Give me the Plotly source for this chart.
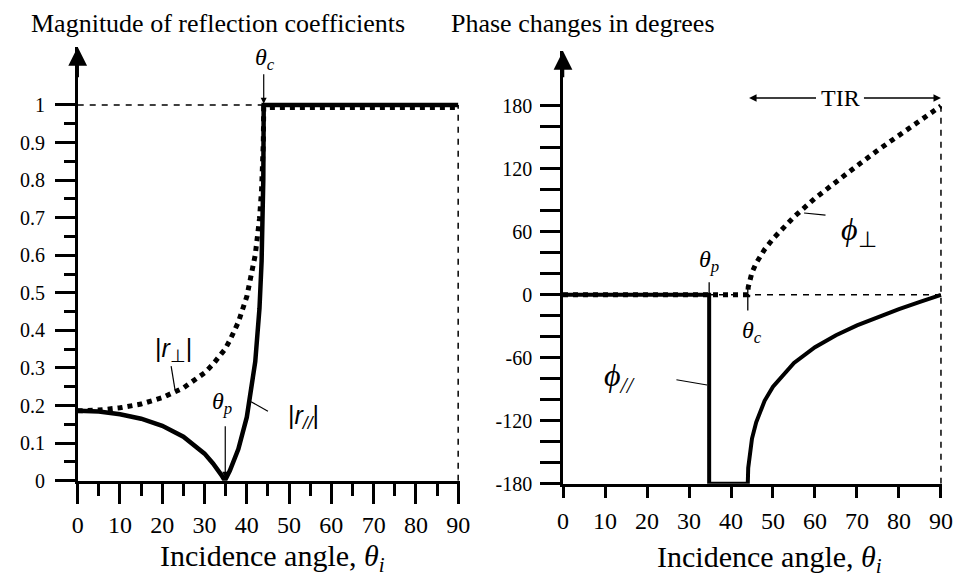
import plotly.graph_objects as go

# ---------------- data ----------------
theta_c = 44.0   # critical angle
theta_p = 34.8   # Brewster (polarization) angle

theta_mag = [0, 5, 10, 15, 20, 25, 30, 32, 34, 34.8, 36, 38, 40, 42, 43, 43.5, 43.9, 44,
             50, 60, 70, 80, 90]
r_perp = [0.186, 0.188, 0.194, 0.204, 0.221, 0.247, 0.287, 0.310, 0.338, 0.349, 0.374, 0.422,
          0.490, 0.601, 0.697, 0.776, 0.899, 0.993, 0.993, 0.993, 0.993, 0.993, 0.993]
r_par = [0.186, 0.184, 0.177, 0.165, 0.146, 0.117, 0.072, 0.046, 0.015, 0.0, 0.027, 0.084,
         0.169, 0.317, 0.459, 0.584, 0.801, 1.0, 1.0, 1.0, 1.0, 1.0, 1.0]

theta_phi_par = [0, 34.8, 34.8, 44.0, 44.1, 44.5, 45, 46, 48, 50, 55, 60, 65, 70, 75, 80, 85, 90]
phi_par = [0, 0, -180, -180, -165, -149, -137, -121.5, -101, -87.6, -65, -50, -38.6, -29.2,
           -21, -13.7, -6.7, 0]

theta_phi_perp = [0, 44.0, 44.1, 44.5, 45, 46, 48, 50, 55, 60, 65, 70, 75, 80, 85, 90]
phi_perp = [0, 0, 7.2, 15.2, 21.3, 30.2, 43.2, 53.4, 74.3, 92, 108, 123, 138, 152, 166, 180]

x_ticks = [0, 10, 20, 30, 40, 50, 60, 70, 80, 90]
x_minor = [5, 15, 25, 35, 45, 55, 65, 75, 85]
mag_ticks = [0, 0.1, 0.2, 0.3, 0.4, 0.5, 0.6, 0.7, 0.8, 0.9, 1]
mag_ticktext = ["0", "0.1", "0.2", "0.3", "0.4", "0.5", "0.6", "0.7", "0.8", "0.9", "1"]
mag_minor = [0.05, 0.15, 0.25, 0.35, 0.45, 0.55, 0.65, 0.75, 0.85, 0.95]
phase_ticks = [-180, -120, -60, 0, 60, 120, 180]
phase_ticktext = ["-180", "-120", "-60", "0", "60", "120", "180"]
phase_minor = [-160, -140, -100, -80, -40, -20, 20, 40, 80, 100, 140, 160]

mag_unity = 1.0
phase_zero = 0.0
phase_top = 180.0
phase_bottom = -180.0
tir_level = 187.5

# ---------------- figure ----------------
W, H = 966, 579
SERIF = "Liberation Serif"
SANS = "Liberation Sans"

def px(x):
    return x / W

def py(y):
    return (H - y) / H

fig = go.Figure()

# left panel: magnitudes
fig.add_trace(go.Scatter(x=theta_mag, y=r_par, mode="lines", xaxis="x", yaxis="y",
                         line=dict(color="black", width=4.5), showlegend=False, hoverinfo="skip"))
fig.add_trace(go.Scatter(x=theta_mag, y=r_perp, mode="lines", xaxis="x", yaxis="y",
                         line=dict(color="black", width=5, dash="dot"), showlegend=False,
                         hoverinfo="skip"))

# right panel: phases
fig.add_trace(go.Scatter(x=theta_phi_perp, y=phi_perp, mode="lines", xaxis="x2", yaxis="y2",
                         line=dict(color="black", width=5, dash="dot"), showlegend=False,
                         hoverinfo="skip"))
fig.add_trace(go.Scatter(x=theta_phi_par, y=phi_par, mode="lines", xaxis="x2", yaxis="y2",
                         line=dict(color="black", width=4), showlegend=False, hoverinfo="skip"))

axis_common = dict(showline=True, linecolor="black", linewidth=2.5, showgrid=False,
                   zeroline=False, ticks="outside", tickcolor="black", tickwidth=2.5)

fig.update_layout(
    width=W, height=H, margin=dict(l=0, r=0, t=0, b=0), autosize=False,
    paper_bgcolor="white", plot_bgcolor="white",
    xaxis=dict(domain=[px(73), px(462)], range=[0, 90.4], anchor="y",
               tickvals=x_ticks, ticklen=21, ticklabelstandoff=0,
               tickfont=dict(family=SERIF, size=24, color="black"),
               minor=dict(tickvals=x_minor, ticklen=13, tickwidth=2.5, tickcolor="black",
                          ticks="outside"),
               **axis_common),
    yaxis=dict(domain=[py(490), py(48)], range=[0, 1.154], anchor="x",
               tickvals=mag_ticks, ticktext=mag_ticktext, ticklen=20, ticklabelstandoff=6,
               tickfont=dict(family=SERIF, size=20, color="black"),
               minor=dict(tickvals=mag_minor, ticklen=11, tickwidth=2.5, tickcolor="black",
                          ticks="outside"),
               **axis_common),
    xaxis2=dict(domain=[px(567), px(953)], range=[0, 90.3], anchor="y2",
                tickvals=x_ticks, ticklen=12, ticklabelstandoff=2,
                tickfont=dict(family=SERIF, size=24, color="black"),
                **axis_common),
    yaxis2=dict(domain=[py(493), py(52)], range=[-180, 232.4], anchor="x2",
                tickvals=phase_ticks, ticktext=phase_ticktext, ticklen=20, ticklabelstandoff=4,
                tickfont=dict(family=SERIF, size=20, color="black"),
                minor=dict(tickvals=phase_minor, ticklen=20, tickwidth=2.5, tickcolor="black",
                           ticks="outside"),
                **axis_common),
)

thin_dash = dict(color="black", width=1.5, dash="6px,6px")
shapes = [
    # left: dashed line at |r| = 1 up to theta_c, dashed vertical at 90
    dict(type="line", xref="x", yref="y", x0=0, x1=theta_c, y0=mag_unity, y1=mag_unity,
         line=thin_dash, layer="below"),
    dict(type="line", xref="x", yref="y", x0=x_ticks[-1], x1=x_ticks[-1], y0=0, y1=mag_unity,
         line=thin_dash, layer="below"),
    # right: dashed zero line and dashed vertical at 90
    dict(type="line", xref="x2", yref="y2", x0=0, x1=x_ticks[-1], y0=phase_zero, y1=phase_zero,
         line=thin_dash, layer="below"),
    dict(type="line", xref="x2", yref="y2", x0=x_ticks[-1], x1=x_ticks[-1], y0=phase_bottom,
         y1=phase_top, line=thin_dash, layer="below"),
    # right: small ticks marking theta_p and theta_c on the zero line
    dict(type="line", xref="x2", yref="y2", x0=theta_p, x1=theta_p, y0=0, y1=12,
         line=dict(color="black", width=1.3)),
    dict(type="line", xref="x2", yref="y2", x0=theta_c, x1=theta_c, y0=7, y1=-15,
         line=dict(color="black", width=1.3)),
    # leader lines
    dict(type="line", xref="x", yref="y", x0=22.1, x1=23.0, y0=0.305, y1=0.243,
         line=dict(color="black", width=1.2)),
    dict(type="line", xref="x", yref="y", x0=41.0, x1=45.0, y0=0.21, y1=0.185,
         line=dict(color="black", width=1.2)),
    dict(type="line", xref="x2", yref="y2", x0=57.4, x1=62.5, y0=78, y1=76,
         line=dict(color="black", width=1.2)),
    dict(type="line", xref="x2", yref="y2", x0=27.0, x1=34.3, y0=-81, y1=-86,
         line=dict(color="black", width=1.2)),
]
fig.update_layout(shapes=shapes)


def arrow(xr, yr, x, y, ax, ay, width=1.3, head=2, size=1.0):
    return dict(x=x, y=y, ax=ax, ay=ay, xref=xr, yref=yr, axref=xr, ayref=yr,
                showarrow=True, text="", arrowhead=head, arrowsize=size,
                arrowwidth=width, arrowcolor="black", standoff=0)


def label(xr, yr, x, y, text, size, family=SERIF):
    return dict(x=x, y=y, xref=xr, yref=yr, text=text, showarrow=False,
                font=dict(family=family, size=size, color="black"),
                xanchor="center", yanchor="middle")


annotations = [
    # axis arrows
    arrow("x", "y", 0, 1.154, 0, 1.07, width=2.5, head=2, size=1.5),
    arrow("x2", "y2", 0, 232.4, 0, 206, width=2.5, head=2, size=1.5),
    # left labels
    label("x", "y", 44.2, 1.123, "<i>θ</i><sub><i>c</i></sub>", 24),
    arrow("x", "y", 44.0, 1.003, 44.0, 1.086, width=1.2, head=2, size=1.0),
    label("x", "y", 34.2, 0.206, "<i>θ</i><sub><i>p</i></sub>", 24),
    arrow("x", "y", 34.9, 0.008, 34.9, 0.149, width=1.2, head=2, size=1.0),
    label("x", "y", 22.6, 0.347, "|<i>r</i><sub>⊥</sub>|", 25, SANS),
    label("x", "y", 53.3, 0.170, "|<i>r</i><sub><i>//</i></sub>|", 25, SANS),
    # right labels
    label("x2", "y2", 34.7, 32.3, "<i>θ</i><sub><i>p</i></sub>", 24),
    label("x2", "y2", 45.0, -35, "<i>θ</i><sub><i>c</i></sub>", 24),
    label("x2", "y2", 70.5, 60.3, "<i>ϕ</i><sub>⊥</sub>", 32),
    label("x2", "y2", 13.5, -79, "<i>ϕ</i><sub><i>//</i></sub>", 32),
    label("x2", "y2", 66.0, tir_level, "TIR", 24),
    arrow("x2", "y2", theta_c + 0.3, tir_level, 60.6, tir_level, width=1.5, head=2, size=1.0),
    arrow("x2", "y2", 90.0, tir_level, 71.3, tir_level, width=1.5, head=2, size=1.0),
    # titles
    dict(x=px(216), y=py(24), xref="paper", yref="paper", showarrow=False,
         text="Magnitude of reflection coefficients",
         font=dict(family=SERIF, size=26, color="black"), xanchor="center", yanchor="middle"),
    dict(x=px(587), y=py(24), xref="paper", yref="paper", showarrow=False,
         text="Phase changes in degrees",
         font=dict(family=SERIF, size=26, color="black"), xanchor="center", yanchor="middle"),
    dict(x=px(271), y=py(569), xref="paper", yref="paper", showarrow=False,
         text="Incidence angle, <i>θ</i><sub><i>i</i></sub>",
         font=dict(family=SERIF, size=30, color="black"), xanchor="center", yanchor="middle"),
    dict(x=px(777), y=py(570), xref="paper", yref="paper", showarrow=False,
         text="Incidence angle, <i>θ</i><sub><i>i</i></sub>",
         font=dict(family=SERIF, size=30, color="black"), xanchor="center", yanchor="middle"),
]
fig.update_layout(annotations=annotations)

fig.write_html("out.html")
